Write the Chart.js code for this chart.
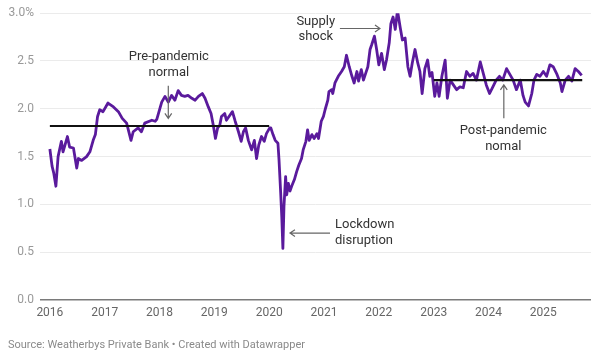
<!DOCTYPE html>
<html>
<head>
<meta charset="utf-8">
<script src="https://cdn.jsdelivr.net/npm/chart.js@4"></script>
<style>
  html, body { margin: 0; padding: 0; background: #fff; }
  #wrap { width: 601px; height: 362px; }
</style>
</head>
<body>
<div id="wrap"><canvas id="chart" width="601" height="362"></canvas></div>
<script>
// 시점 (소수 연도) / 값 (%)
const yearPos = [
  2016.00, 2016.04, 2016.07, 2016.11, 2016.15, 2016.21, 2016.24, 2016.32, 2016.36, 2016.43,
  2016.49, 2016.52, 2016.58, 2016.67, 2016.73, 2016.79, 2016.83, 2016.87, 2016.91, 2016.97,
  2017.06, 2017.16, 2017.25, 2017.32, 2017.40, 2017.48, 2017.52, 2017.61, 2017.67, 2017.73,
  2017.86, 2017.92, 2017.95, 2018.01, 2018.04, 2018.10, 2018.16, 2018.22, 2018.28, 2018.34,
  2018.40, 2018.46, 2018.52, 2018.59, 2018.65, 2018.71, 2018.78, 2018.83, 2018.89, 2018.94,
  2018.98, 2019.02, 2019.06, 2019.10, 2019.13, 2019.19, 2019.22, 2019.28, 2019.33, 2019.38,
  2019.44, 2019.49, 2019.53, 2019.57, 2019.62, 2019.68, 2019.73, 2019.77, 2019.81, 2019.86,
  2019.91, 2019.95, 2020.01, 2020.03, 2020.07, 2020.11, 2020.16, 2020.18, 2020.21, 2020.23,
  2020.25, 2020.27, 2020.30, 2020.32, 2020.35, 2020.38, 2020.41, 2020.46, 2020.50, 2020.54,
  2020.59, 2020.62, 2020.67, 2020.70, 2020.73, 2020.78, 2020.82, 2020.87, 2020.90, 2020.95,
  2020.99, 2021.02, 2021.07, 2021.09, 2021.14, 2021.16, 2021.20, 2021.26, 2021.32, 2021.37,
  2021.41, 2021.46, 2021.51, 2021.55, 2021.60, 2021.63, 2021.68, 2021.72, 2021.76, 2021.80,
  2021.84, 2021.87, 2021.92, 2021.96, 2022.00, 2022.05, 2022.10, 2022.14, 2022.19, 2022.22,
  2022.26, 2022.30, 2022.34, 2022.39, 2022.43, 2022.48, 2022.53, 2022.57, 2022.61, 2022.66,
  2022.71, 2022.75, 2022.79, 2022.84, 2022.89, 2022.93, 2022.97, 2023.02, 2023.06, 2023.10,
  2023.15, 2023.21, 2023.25, 2023.30, 2023.36, 2023.42, 2023.48, 2023.54, 2023.60, 2023.66,
  2023.72, 2023.78, 2023.85, 2023.91, 2023.96, 2024.02, 2024.08, 2024.14, 2024.20, 2024.26,
  2024.33, 2024.39, 2024.45, 2024.51, 2024.58, 2024.63, 2024.67, 2024.73, 2024.79, 2024.83,
  2024.88, 2024.94, 2025.00, 2025.06, 2025.12, 2025.18, 2025.25, 2025.31, 2025.34, 2025.40,
  2025.46, 2025.52, 2025.58, 2025.64, 2025.70
];
const yieldPct = [
  1.58, 1.40, 1.33, 1.19, 1.50, 1.66, 1.55, 1.71, 1.60, 1.59,
  1.38, 1.48, 1.46, 1.50, 1.55, 1.67, 1.73, 1.92, 1.99, 1.97,
  2.06, 2.02, 1.97, 1.90, 1.85, 1.67, 1.76, 1.80, 1.76, 1.85,
  1.88, 1.87, 1.89, 2.01, 2.07, 2.13, 2.07, 2.14, 2.09, 2.19,
  2.14, 2.13, 2.14, 2.11, 2.09, 2.13, 2.16, 2.11, 2.02, 1.95,
  1.83, 1.69, 1.80, 1.83, 1.92, 1.95, 1.88, 1.93, 1.97, 1.87,
  1.76, 1.66, 1.76, 1.80, 1.67, 1.57, 1.67, 1.48, 1.62, 1.71,
  1.66, 1.74, 1.80, 1.80, 1.73, 1.67, 1.64, 1.46, 1.12, 0.87,
  0.54, 0.98, 1.29, 1.10, 1.22, 1.14, 1.19, 1.26, 1.34, 1.41,
  1.48, 1.57, 1.66, 1.78, 1.67, 1.73, 1.69, 1.74, 1.69, 1.87,
  1.92, 1.99, 2.09, 2.18, 2.20, 2.16, 2.27, 2.34, 2.39, 2.44,
  2.56, 2.44, 2.34, 2.27, 2.39, 2.29, 2.41, 2.30, 2.37, 2.44,
  2.62, 2.67, 2.76, 2.62, 2.46, 2.58, 2.41, 2.51, 2.69, 2.89,
  2.96, 2.83, 3.03, 2.85, 2.72, 2.74, 2.44, 2.34, 2.48, 2.62,
  2.48, 2.39, 2.16, 2.42, 2.51, 2.34, 2.38, 2.13, 2.27, 2.13,
  2.34, 2.51, 2.11, 2.30, 2.25, 2.20, 2.23, 2.22, 2.39, 2.34,
  2.37, 2.30, 2.49, 2.36, 2.25, 2.16, 2.23, 2.30, 2.34, 2.30,
  2.42, 2.36, 2.30, 2.20, 2.30, 2.14, 2.07, 2.03, 2.16, 2.30,
  2.36, 2.34, 2.39, 2.34, 2.46, 2.44, 2.36, 2.27, 2.18, 2.30,
  2.34, 2.29, 2.42, 2.39, 2.35
];

// 기준선 (pre / post pandemic normal)
const preNormalSpan = [2016.0, 2020.0];
const preNormalLevel = 1.82;
const postNormalSpan = [2023.0, 2025.71];
const postNormalLevel = 2.30;

const yearTicks = [2016, 2017, 2018, 2019, 2020, 2021, 2022, 2023, 2024, 2025];
const valueTicks = [0, 0.5, 1.0, 1.5, 2.0, 2.5, 3.0];

const FONT = 'Roboto, "Noto Sans", sans-serif';

// 주석: 텍스트 + 화살표 (데이터 좌표)
const notes = [
  { lines: ['Pre-pandemic', 'normal'], x: 2018.17, y: [2.54, 2.375], align: 'center',
    arrow: { from: [2018.16, 2.24], to: [2018.16, 1.90] } },
  { lines: ['Supply', 'shock'], x: 2020.85, y: [2.91, 2.755], align: 'center',
    arrow: { from: [2021.29, 2.84], to: [2022.02, 2.84] } },
  { lines: ['Lockdown', 'disruption'], x: 2021.20, y: [0.785, 0.62], align: 'left',
    arrow: { from: [2021.11, 0.70], to: [2020.38, 0.70] } },
  { lines: ['Post-pandemic', 'nomal'], x: 2024.27, y: [1.77, 1.60], align: 'center',
    arrow: { from: [2024.28, 1.90], to: [2024.28, 2.25] } },
];

const notePlugin = {
  id: 'notes',
  afterDatasetsDraw(chart) {
    const ctx = chart.ctx;
    const xs = chart.scales.x;
    const ys = chart.scales.y;
    ctx.save();
    notes.forEach(function (n) {
      ctx.font = '13px ' + FONT;
      ctx.fillStyle = '#333333';
      ctx.textAlign = n.align;
      ctx.textBaseline = 'middle';
      n.lines.forEach(function (t, i) {
        ctx.fillText(t, xs.getPixelForValue(n.x), ys.getPixelForValue(n.y[i]));
      });
      const x1 = xs.getPixelForValue(n.arrow.from[0]);
      const y1 = ys.getPixelForValue(n.arrow.from[1]);
      const x2 = xs.getPixelForValue(n.arrow.to[0]);
      const y2 = ys.getPixelForValue(n.arrow.to[1]);
      const ang = Math.atan2(y2 - y1, x2 - x1);
      ctx.strokeStyle = '#666666';
      ctx.lineWidth = 1.2;
      ctx.beginPath();
      ctx.moveTo(x1, y1);
      ctx.lineTo(x2, y2);
      ctx.moveTo(x2 - 6 * Math.cos(ang - 0.6), y2 - 6 * Math.sin(ang - 0.6));
      ctx.lineTo(x2, y2);
      ctx.lineTo(x2 - 6 * Math.cos(ang + 0.6), y2 - 6 * Math.sin(ang + 0.6));
      ctx.stroke();
    });
    // 출처
    ctx.font = '11px ' + FONT;
    ctx.fillStyle = '#8a8a8a';
    ctx.textAlign = 'left';
    ctx.textBaseline = 'middle';
    ctx.fillText('Source: Weatherbys Private Bank \u2022 Created with Datawrapper', 8, 345);
    ctx.restore();
  },
};

document.addEventListener('DOMContentLoaded', function () {
  const series = yearPos.map(function (t, i) {
    return { x: t, y: yieldPct[i] };
  });

  new Chart(document.getElementById('chart'), {
    type: 'line',
    data: {
      datasets: [
        {
          label: 'Pre-pandemic normal',
          data: [
            { x: preNormalSpan[0], y: preNormalLevel },
            { x: preNormalSpan[1], y: preNormalLevel },
          ],
          borderColor: '#111111',
          borderWidth: 2.2,
          pointRadius: 0,
          order: 0,
        },
        {
          label: 'Post-pandemic normal',
          data: [
            { x: postNormalSpan[0], y: postNormalLevel },
            { x: postNormalSpan[1], y: postNormalLevel },
          ],
          borderColor: '#111111',
          borderWidth: 2.2,
          pointRadius: 0,
          order: 0,
        },
        {
          label: 'Yield',
          data: series,
          borderColor: '#5a1a9c',
          borderWidth: 2.8,
          pointRadius: 0,
          tension: 0,
          borderJoinStyle: 'round',
          order: 1,
        },
      ],
    },
    options: {
      responsive: false,
      animation: false,
      events: [],
      layout: {
        padding: { top: 13, right: 10, bottom: 40, left: 0 },
      },
      plugins: {
        legend: { display: false },
        tooltip: { enabled: false },
      },
      scales: {
        x: {
          type: 'linear',
          min: 2015.82,
          max: 2025.87,
          afterBuildTicks: function (scale) {
            scale.ticks = yearTicks.map(function (v) { return { value: v }; });
          },
          afterFit: function (scale) {
            scale.height = 22;
          },
          grid: { display: false, drawTicks: false },
          border: { display: false },
          ticks: {
            padding: 6,
            color: '#666666',
            font: { family: FONT, size: 12 },
            maxRotation: 0,
            callback: function (v) { return String(v); },
          },
        },
        y: {
          min: 0,
          max: 3,
          afterBuildTicks: function (scale) {
            scale.ticks = valueTicks.map(function (v) { return { value: v }; });
          },
          afterFit: function (scale) {
            scale.width = 40;
          },
          grid: {
            drawTicks: false,
            color: function (c) { return c.tick && c.tick.value === 0 ? '#7a7a7a' : '#ebebeb'; },
            lineWidth: function (c) { return c.tick && c.tick.value === 0 ? 1.5 : 1; },
          },
          border: { display: false },
          ticks: {
            padding: 6,
            color: '#999999',
            font: { family: FONT, size: 12 },
            callback: function (v) { return v === 3 ? '3.0%' : v.toFixed(1); },
          },
        },
      },
    },
    plugins: [notePlugin],
  });
});
</script>
</body>
</html>
